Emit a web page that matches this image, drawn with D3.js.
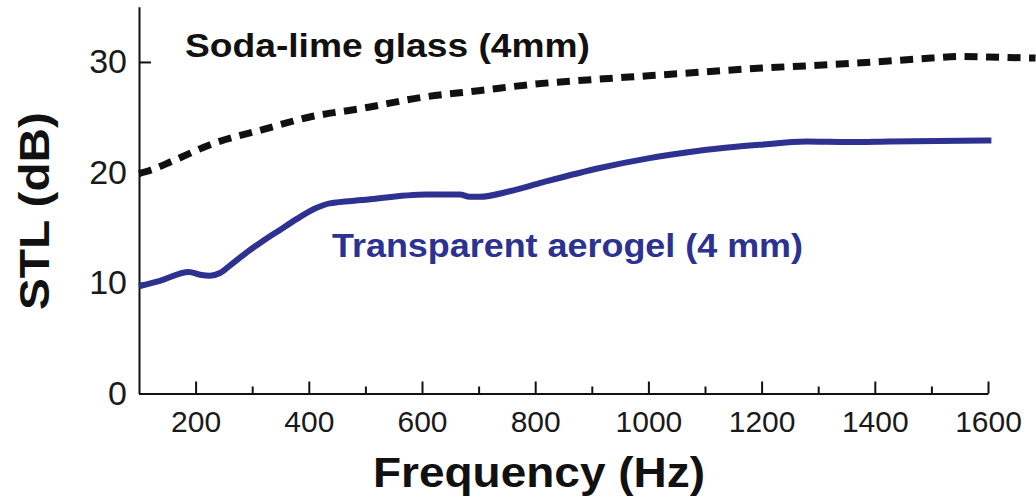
<!DOCTYPE html>
<html>
<head>
<meta charset="utf-8">
<script src="https://cdn.jsdelivr.net/npm/d3@7"></script>
<style>
  body { margin: 0; background: #fff; }
  svg { display: block; }
</style>
</head>
<body>
<script>
// values
var glassFreq = [100, 120, 160, 230, 320, 400, 500, 600, 700, 800, 900, 1000, 1100, 1200, 1300, 1400, 1500, 1550, 1600, 1684];
var glassSTL = [19.9, 20.2, 21.05, 22.6, 23.9, 25.0, 25.85, 26.8, 27.4, 28.0, 28.4, 28.75, 29.1, 29.45, 29.7, 30.0, 30.35, 30.5, 30.45, 30.35];

var aerogelFreq = [100, 137, 188, 208, 225, 243, 261, 291, 319, 349, 379, 414, 437, 495, 608, 667, 684, 702, 755, 813, 914, 1002, 1073, 1140, 1196, 1279, 1355, 1426, 1606];
var aerogelSTL = [9.7, 10.2, 11.0, 10.75, 10.66, 10.9, 11.6, 12.8, 13.8, 14.8, 15.8, 16.8, 17.2, 17.5, 18.0, 18.0, 17.8, 17.8, 18.3, 19.1, 20.4, 21.3, 21.85, 22.25, 22.5, 22.8, 22.75, 22.8, 22.9];

var xMajor = [200, 400, 600, 800, 1000, 1200, 1400, 1600];
var xMinor = [300, 500, 700, 900, 1100, 1300, 1500];
var yTicks = [0, 10, 20, 30];

var font = "'Liberation Sans', Arial, Helvetica, sans-serif";
var blue = "#2d3190";

var svg = d3.select("body").append("svg")
  .attr("width", 1036)
  .attr("height", 501);

var x = d3.scaleLinear().domain([100, 1600]).range([139, 988]);
var y = d3.scaleLinear().domain([0, 35]).range([393.5, 6.7]);

// x axis, ticks pointing up into the plot
var xAxis = svg.append("g")
  .attr("transform", "translate(0,393.5)")
  .call(d3.axisBottom(x).tickValues(xMajor).tickFormat(d3.format("d"))
    .tickSizeInner(-12).tickSizeOuter(0).tickPadding(17));
svg.append("g")
  .attr("transform", "translate(0,393.5)")
  .call(d3.axisBottom(x).tickValues(xMinor).tickSizeInner(-7).tickSizeOuter(0).tickFormat(""))
  .select(".domain").remove();

var yAxis = svg.append("g")
  .attr("transform", "translate(139,0)")
  .call(d3.axisLeft(y).tickValues(yTicks).tickFormat(d3.format("d"))
    .tickSizeInner(-12).tickSizeOuter(0).tickPadding(12));

svg.selectAll(".domain, .tick line")
  .attr("stroke", "#111")
  .attr("stroke-width", 2);

xAxis.selectAll(".tick text")
  .attr("font-family", font)
  .attr("font-size", 30)
  .attr("fill", "#1a1a1a");
yAxis.selectAll(".tick text")
  .attr("font-family", font)
  .attr("font-size", 34)
  .attr("fill", "#1a1a1a");

var line = d3.line()
  .x(function(d) { return x(d[0]); })
  .y(function(d) { return y(d[1]); })
  .curve(d3.curveMonotoneX);

var glass = d3.zip(glassFreq, glassSTL);
var aerogel = d3.zip(aerogelFreq, aerogelSTL);

svg.append("path")
  .datum(aerogel)
  .attr("d", line)
  .attr("fill", "none")
  .attr("stroke", blue)
  .attr("stroke-width", 6);

svg.append("path")
  .datum(glass)
  .attr("d", line)
  .attr("fill", "none")
  .attr("stroke", "#111")
  .attr("stroke-width", 7)
  .attr("stroke-dasharray", "13,8.5");

// labels
svg.append("text")
  .attr("x", 185).attr("y", 57)
  .attr("font-family", font).attr("font-weight", "bold").attr("font-size", 33)
  .attr("fill", "#111")
  .attr("textLength", 405).attr("lengthAdjust", "spacingAndGlyphs")
  .text("Soda-lime glass (4mm)");

svg.append("text")
  .attr("x", 332).attr("y", 257)
  .attr("font-family", font).attr("font-weight", "bold").attr("font-size", 34)
  .attr("fill", blue)
  .attr("textLength", 471).attr("lengthAdjust", "spacingAndGlyphs")
  .text("Transparent aerogel (4 mm)");

svg.append("text")
  .attr("x", 373).attr("y", 487)
  .attr("font-family", font).attr("font-weight", "bold").attr("font-size", 42)
  .attr("fill", "#111")
  .attr("textLength", 332).attr("lengthAdjust", "spacingAndGlyphs")
  .text("Frequency (Hz)");

svg.append("text")
  .attr("transform", "translate(49,310) rotate(-90)")
  .attr("font-family", font).attr("font-weight", "bold").attr("font-size", 42)
  .attr("fill", "#111")
  .attr("textLength", 198).attr("lengthAdjust", "spacingAndGlyphs")
  .text("STL (dB)");
</script>
</body>
</html>
